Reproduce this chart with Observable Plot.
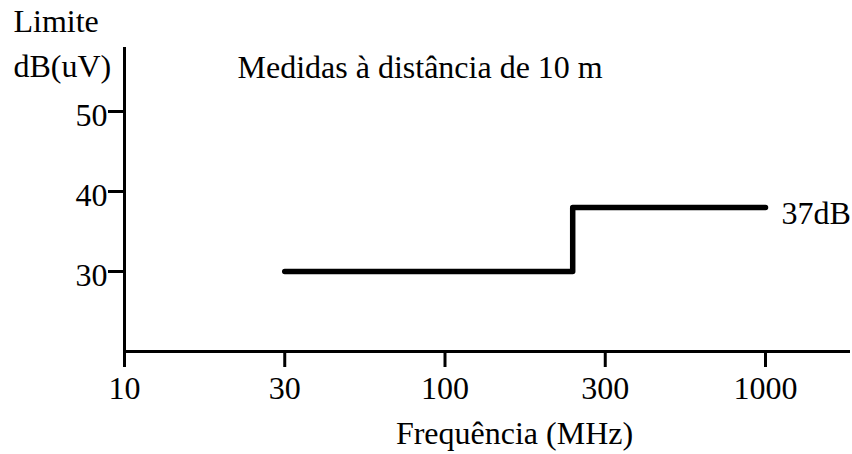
<!DOCTYPE html>
<html><head><meta charset="utf-8">
<script src="https://cdn.jsdelivr.net/npm/d3@7"></script>
<script src="https://cdn.jsdelivr.net/npm/@observablehq/plot@0.6"></script>
<style>body{margin:0;background:#fff}</style>
</head><body><div id="chart"></div>
<script>
const freqTicks = [10, 30, 100, 300, 1000];
const limitTicks = [30, 40, 50];
const freq = [30, 240, 1000];
const limit = [30, 38, 38];
const data = freq.map((f, i) => ({f, v: limit[i]}));
const font = "'Liberation Serif', 'Times New Roman', serif";

const chart = Plot.plot({
  width: 852, height: 454,
  marginLeft: 124, marginRight: 2, marginTop: 47, marginBottom: 103,
  style: {fontFamily: font, fontSize: "32px", color: "black", background: "white"},
  x: {type: "log", domain: freqTicks, range: freqTicks.map((_, i) => 124 + i * 160.25)},
  y: {domain: [20, 58]},
  marks: [
    Plot.ruleY([20], {stroke: "black", strokeWidth: 3}),
    Plot.ruleX([10], {stroke: "black", strokeWidth: 3}),
    Plot.axisX({ticks: freqTicks, tickFormat: d => String(d), tickSize: 16, tickPadding: 9, strokeWidth: 3, label: null}),
    Plot.axisY({ticks: limitTicks, tickSize: 16, tickFormat: () => "", strokeWidth: 3, label: null}),
    Plot.axisY({ticks: limitTicks, tickSize: 0, tickPadding: 17, dy: 4, label: null}),
    Plot.line(data, {x: "f", y: "v", curve: "step-after", stroke: "black", strokeWidth: 5.5, strokeLinecap: "round", strokeLinejoin: "round"}),
    Plot.text([data[data.length - 1]], {x: "f", y: "v", text: () => "37dB", textAnchor: "start", dx: 16, dy: 6}),
    Plot.text(["Limite"], {frameAnchor: "top-left", text: d => d, textAnchor: "start", dx: -111, dy: -38}),
    Plot.text(["dB(uV)"], {frameAnchor: "top-left", text: d => d, textAnchor: "start", dx: -111, dy: 7}),
    Plot.text(["Medidas à distância de 10 m"], {frameAnchor: "top-left", text: d => d, textAnchor: "start", dx: 113, dy: 8}),
    Plot.text(["Frequência (MHz)"], {frameAnchor: "bottom", text: d => d, dx: 27, dy: 92})
  ]
});
document.getElementById("chart").append(chart);
</script>
</body></html>
